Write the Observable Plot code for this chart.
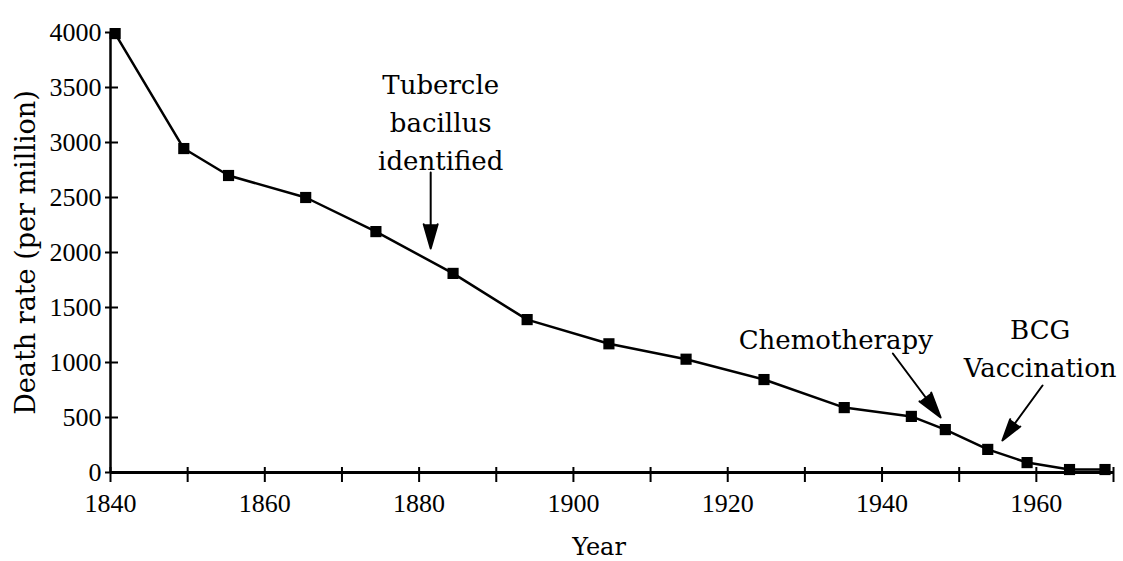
<!DOCTYPE html>
<html>
<head>
<meta charset="utf-8">
<script src="https://cdn.jsdelivr.net/npm/d3@7"></script>
<script src="https://cdn.jsdelivr.net/npm/@observablehq/plot@0.6"></script>
<style>
  html, body { margin: 0; padding: 0; background: #fff; }
  .tb g[aria-label="x-axis tick label"], .tb g[aria-label="y-axis tick label"] {
    font-family: 'Liberation Serif', serif !important;
    font-size: 26px !important;
  }
</style>
</head>
<body>
<div id="chart"></div>
<script>
// Data
const years = [1840.6, 1849.5, 1855.3, 1865.3, 1874.4, 1884.4, 1894.0, 1904.6, 1914.6, 1924.7, 1935.1, 1943.8, 1948.2, 1953.7, 1958.8, 1964.3, 1968.9];
const deathRates = [3990, 2945, 2700, 2500, 2190, 1810, 1390, 1170, 1030, 845, 590, 510, 390, 210, 90, 27, 27];

const xTicks = [1840, 1850, 1860, 1870, 1880, 1890, 1900, 1910, 1920, 1930, 1940, 1950, 1960, 1970];
const xTickLabels = [1840, 1860, 1880, 1900, 1920, 1940, 1960];
const yTicks = [0, 500, 1000, 1500, 2000, 2500, 3000, 3500, 4000];

const xTitle = "Year";
const yTitle = "Death rate (per million)";

// Annotations (anchors in data units)
const annotationLabels = ["Tubercle\nbacillus\nidentified", "Chemotherapy", "BCG\nVaccination"];
const labelYears = [1882.8, 1934.0, 1960.5];
const labelRates = [3682, 1364, 1455];
const arrowFromYears = [1881.5, 1941.4, 1960.8];
const arrowFromRates = [2727, 1082, 791];
const arrowToYears = [1881.5, 1947.6, 1955.6];
const arrowToRates = [2036, 500, 291];

const points = years.map((year, i) => ({year, rate: deathRates[i]}));
const annotations = annotationLabels.map((text, i) => ({
  text,
  x: labelYears[i], y: labelRates[i],
  x1: arrowFromYears[i], y1: arrowFromRates[i],
  x2: arrowToYears[i], y2: arrowToRates[i]
}));

const serif = "'DejaVu Serif', serif";

const chart = Plot.plot({
  className: "tb",
  width: 1123,
  height: 561,
  marginLeft: 110,
  marginRight: 10,
  marginTop: 32,
  marginBottom: 89,
  x: {domain: [1840, 1970]},
  y: {domain: [0, 4000]},
  style: {fontFamily: serif, background: "#fff", color: "#000"},
  marks: [
    Plot.axisX({ticks: xTicks, tickSize: 15, dy: -5, tickFormat: () => "", strokeWidth: 2, label: null}),
    Plot.axisX({ticks: xTickLabels, tickSize: 0, tickPadding: 21, tickFormat: (d) => String(d), fontSize: 26, label: null}),
    Plot.axisY({ticks: yTicks, tickSize: 13, dx: 8, tickFormat: () => "", strokeWidth: 2, label: null}),
    Plot.axisY({ticks: yTicks, tickSize: 0, tickPadding: 9, tickFormat: (d) => String(d), fontSize: 26, label: null}),
    Plot.ruleY([0], {strokeWidth: 3}),
    Plot.ruleX([1840], {strokeWidth: 2.5}),
    Plot.line(points, {x: "year", y: "rate", strokeWidth: 2.5}),
    Plot.dot(points, {x: "year", y: "rate", symbol: "square", r: 6.3, fill: "#000", stroke: "none"}),
    Plot.text(annotations, {x: "x", y: "y", text: "text", lineAnchor: "top", fontSize: 26, lineHeight: 1.46}),
    Plot.arrow(annotations, {x1: "x1", y1: "y1", x2: "x2", y2: "y2", fill: "#000", stroke: "#000", strokeWidth: 2, headLength: 23, headAngle: 32}),
    Plot.text([xTitle], {frameAnchor: "bottom", dx: -13, dy: 65, lineAnchor: "top", fontSize: 24}),
    Plot.text([yTitle], {frameAnchor: "left", textAnchor: "middle", rotate: -90, dx: -84, fontSize: 27})
  ]
});

document.getElementById("chart").appendChild(chart);
</script>
</body>
</html>
